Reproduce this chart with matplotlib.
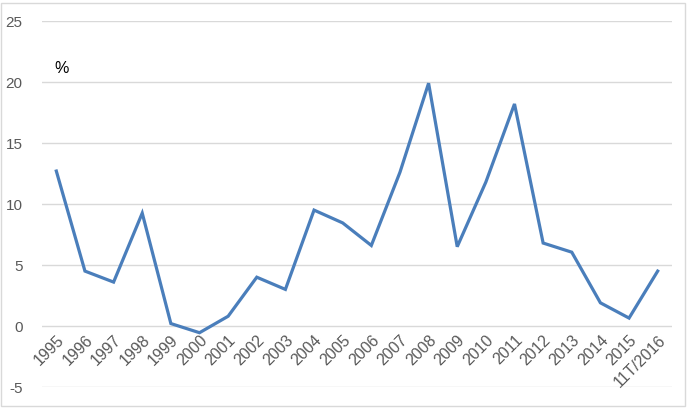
import matplotlib
matplotlib.use("Agg")
import matplotlib.pyplot as plt
from matplotlib.patches import Rectangle

years = ['1995', '1996', '1997', '1998', '1999', '2000', '2001', '2002', '2003',
         '2004', '2005', '2006', '2007', '2008', '2009', '2010', '2011', '2012',
         '2013', '2014', '2015', '11T/2016']
values = [12.7, 4.5, 3.6, 9.25, 0.2, -0.55, 0.8, 4.0, 3.0,
          9.5, 8.45, 6.6, 12.6, 19.9, 6.5, 11.8, 18.2, 6.8,
          6.05, 1.9, 0.65, 4.5]
yticks = [-5, 0, 5, 10, 15, 20, 25]

plt.rcParams['font.family'] = ['Liberation Sans', 'DejaVu Sans']
gray = '#595959'

fig = plt.figure(figsize=(6.91, 4.10), dpi=100)
ax = fig.add_axes([42 / 691, 1 - 388 / 410, (672 - 42) / 691, (388 - 22) / 410])

x = list(range(len(years)))
ax.plot(x, values, color='#4a7ebb', linewidth=2.3, solid_joinstyle='miter', zorder=3)

ax.set_xlim(-0.5, len(years) - 0.5)
ax.set_ylim(-5, 25)
ax.set_yticks(yticks)
ax.set_yticklabels([str(t) for t in yticks], color=gray, fontsize=11)
ax.grid(axis='y', color='#d9d9d9', linewidth=1)
ax.set_axisbelow(True)
for s in ax.spines.values():
    s.set_visible(False)
ax.spines['bottom'].set_position(('data', 0))
ax.tick_params(axis='both', length=0)
ax.tick_params(axis='y', pad=14)

ax.set_xticks(x)
ax.set_xticklabels(years, rotation=45, ha='right', rotation_mode='anchor',
                   color=gray, fontsize=11.5)
ax.tick_params(axis='x', pad=4)

ax.text(0.2, 21.2, '%', fontsize=11.5, color='black', ha='center', va='center')

fig.patches.append(Rectangle((1 / 691, 3 / 410), 684 / 691, 403 / 410,
                             transform=fig.transFigure, fill=False,
                             edgecolor='#d9d9d9', linewidth=1))

fig.savefig('out.png', dpi=100)
